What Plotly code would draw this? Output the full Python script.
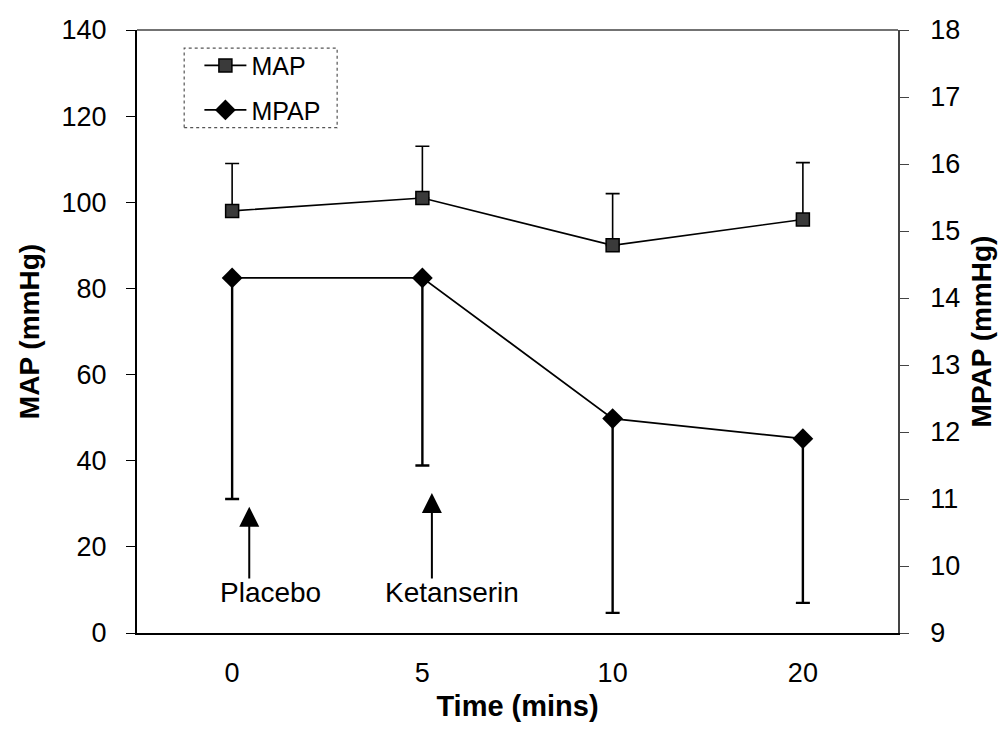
import plotly.graph_objects as go

# Time points (minutes) and measured pressures
time_labels = ["0", "5", "10", "20"]
map_mean = [98, 101, 90, 96]
map_sd_up = [11, 12, 12, 13.2]
mpap_mean = [14.3, 14.3, 12.2, 11.9]
mpap_sd_down = [3.3, 2.8, 2.9, 2.45]

x_pos = list(range(len(time_labels)))
FONT = "Liberation Sans, Arial, sans-serif"

fig = go.Figure()

fig.add_trace(go.Scatter(
    x=x_pos, y=map_mean, name="MAP", mode="lines+markers",
    line=dict(color="black", width=1.6),
    marker=dict(symbol="square", size=13, color="#3a3a3a",
                line=dict(color="black", width=1.5)),
    error_y=dict(type="data", symmetric=False, array=map_sd_up,
                 arrayminus=[0] * len(map_sd_up),
                 color="black", thickness=1.6, width=7),
    legendgroup="a",
))

fig.add_trace(go.Scatter(
    x=x_pos, y=mpap_mean, name="MPAP", mode="lines+markers", yaxis="y2",
    line=dict(color="black", width=1.8),
    marker=dict(symbol="diamond", size=16, color="black"),
    error_y=dict(type="data", symmetric=False, array=[0] * len(mpap_sd_down),
                 arrayminus=mpap_sd_down,
                 color="black", thickness=2.4, width=7),
    legendgroup="b",
))

# Drug administration markers: (x, arrow tip, arrow tail, label x, label)
events = [
    (0.09, 29.3, 12.3, 0.20, "Placebo"),
    (1.05, 32.5, 12.3, 1.155, "Ketanserin"),
]
annotations = []
for ex, tip, tail, lx, label in events:
    annotations.append(dict(
        x=ex, y=tip, ax=ex, ay=tail, xref="x", yref="y", axref="x", ayref="y",
        text="", showarrow=True, arrowhead=2, arrowsize=2, arrowwidth=2,
        arrowcolor="black",
    ))
    annotations.append(dict(
        x=lx, y=9.4, xref="x", yref="y", text=label, showarrow=False,
        font=dict(family=FONT, size=28, color="black"),
    ))

fig.update_layout(
    width=1006, height=729,
    margin=dict(l=137, r=108, t=30, b=96),
    paper_bgcolor="white", plot_bgcolor="white",
    font=dict(family=FONT, size=27, color="black"),
    showlegend=True,
    legend=dict(
        x=0.082, y=0.979, xanchor="left", yanchor="top",
        bgcolor="rgba(0,0,0,0)", borderwidth=0,
        font=dict(family=FONT, size=25, color="black"),
        traceorder="grouped", tracegroupgap=9, itemwidth=42,
    ),
    xaxis=dict(
        range=[-0.5, 3.5], tickvals=x_pos, ticktext=time_labels,
        showline=True, linecolor="black", linewidth=2, mirror=False,
        ticks="", showgrid=False, zeroline=False,
        ticklabelstandoff=15,
        tickfont=dict(family=FONT, size=27),
        title=dict(text="<b>Time (mins)</b>", standoff=8,
                   font=dict(family=FONT, size=29)),
    ),
    yaxis=dict(
        range=[0, 140], dtick=20, showline=True, linecolor="black",
        linewidth=2, ticks="outside", ticklen=9, tickcolor="black",
        showgrid=False, zeroline=False, ticklabelstandoff=14,
        tickfont=dict(family=FONT, size=27),
        title=dict(text="<b>MAP (mmHg)</b>", standoff=14,
                   font=dict(family=FONT, size=28)),
    ),
    yaxis2=dict(
        range=[9, 18], dtick=1, overlaying="y", side="right",
        showline=True, linecolor="#444", linewidth=1.5,
        ticks="outside", ticklen=9, tickcolor="#444",
        showgrid=False, zeroline=False, ticklabelstandoff=16,
        tickfont=dict(family=FONT, size=27),
        title=dict(text="<b>MPAP (mmHg)</b>", standoff=12,
                   font=dict(family=FONT, size=28)),
    ),
    annotations=annotations,
    shapes=[
        # top frame line
        dict(type="line", xref="paper", yref="paper", x0=0, x1=1, y0=1, y1=1,
             line=dict(color="#444", width=1.5)),
        # dotted legend frame
        dict(type="rect", xref="paper", yref="paper",
             x0=0.062, x1=0.263, y0=0.838, y1=0.970,
             line=dict(color="#555", width=1.2, dash="dot")),
    ],
)

fig.write_html("out.html")
